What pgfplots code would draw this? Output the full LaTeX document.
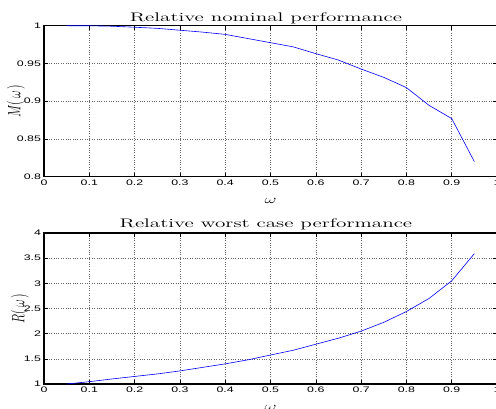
\documentclass[border=0pt]{standalone}
\usepackage{fontspec}
\usepackage{graphicx}
\usepackage{pgfplots}
\pgfplotsset{compat=1.18}
\newfontfamily\tickfont{Liberation Sans}
\newcommand\ttl[1]{\scalebox{1.7}[1]{\fontsize{12.5}{14}\selectfont#1}}
\newcommand\tl[1]{\scalebox{1.55}[1]{#1}}
\pgfplotsset{
  mystyle/.style={
    scale only axis,
    width=453bp, height=151bp,
    xmin=0, xmax=1,
    xtick={0,0.1,0.2,0.3,0.4,0.5,0.6,0.7,0.8,0.9,1},
    xticklabels={\tl{0},\tl{0.1},\tl{0.2},\tl{0.3},\tl{0.4},\tl{0.5},\tl{0.6},\tl{0.7},\tl{0.8},\tl{0.9},\tl{1}},
    grid=major,
    major grid style={dotted, black!60, line width=0.5pt},
    axis line style={line width=1.2pt},
    tick align=inside,
    tick pos=both,
    major tick length=4bp,
    tick style={black, line width=0.5pt},
    /pgf/number format/assume math mode=true,
    tick label style={font=\tickfont\fontsize{8}{9}\selectfont},
    xticklabel style={yshift=0.5bp},
    yticklabel style={xshift=0.5bp},
    title style={at={(axis description cs:0.49,1)}, anchor=base, yshift=-2bp},
    xlabel style={at={(axis description cs:0.5,-0.16)}, anchor=center},
    label style={font=\fontsize{12.5}{14}\selectfont},
  }
}
\begin{document}
\begin{tikzpicture}
\begin{axis}[mystyle, at={(0,0)}, anchor=south west,
  ymin=0.8, ymax=1, ytick={0.8,0.85,0.9,0.95,1},
  yticklabels={\tl{0.8},\tl{0.85},\tl{0.9},\tl{0.95},\tl{1}},
  title={\ttl{Relative nominal performance}},
  ylabel style={at={(axis description cs:-0.0618,0.5)}, anchor=center},
  xlabel={\tl{$\omega$}}, ylabel={\scalebox{1}[1.5]{$M(\,\omega\,)$}}]
\addplot[blue, line width=0.6pt] coordinates {
(0.05,1.0000) (0.10,0.9999) (0.15,0.9993) (0.20,0.9980) (0.25,0.9965)
(0.30,0.9940) (0.35,0.9915) (0.40,0.9885) (0.45,0.9830) (0.50,0.9775)
(0.55,0.9720) (0.60,0.9630) (0.65,0.9545) (0.70,0.9426) (0.75,0.9316)
(0.80,0.9180) (0.85,0.8945) (0.90,0.8770) (0.95,0.8200)
};
\end{axis}
\begin{axis}[mystyle, at={(0,-207.3bp)}, anchor=south west,
  ymin=1, ymax=4, ytick={1,1.5,2,2.5,3,3.5,4},
  yticklabels={\tl{1},\tl{1.5},\tl{2},\tl{2.5},\tl{3},\tl{3.5},\tl{4}},
  title={\ttl{Relative worst case performance}},
  title style={yshift=2bp},
  ylabel style={at={(axis description cs:-0.053,0.5)}, anchor=center},
  xlabel={\tl{$\omega$}}, ylabel={\scalebox{1}[1.5]{$R(\,\omega\,)$}}]
\addplot[blue, line width=0.6pt] coordinates {
(0.05,1.000) (0.10,1.046) (0.15,1.100) (0.20,1.150) (0.25,1.200)
(0.30,1.260) (0.35,1.330) (0.40,1.400) (0.45,1.480) (0.50,1.576)
(0.55,1.670) (0.60,1.790) (0.65,1.910) (0.70,2.050) (0.75,2.225)
(0.80,2.440) (0.85,2.700) (0.90,3.050) (0.95,3.590)
};
\end{axis}
\pgfresetboundingbox
\path[use as bounding box] (-44bp,-232.3bp) rectangle (452bp,176.7bp);
\end{tikzpicture}
\end{document}
